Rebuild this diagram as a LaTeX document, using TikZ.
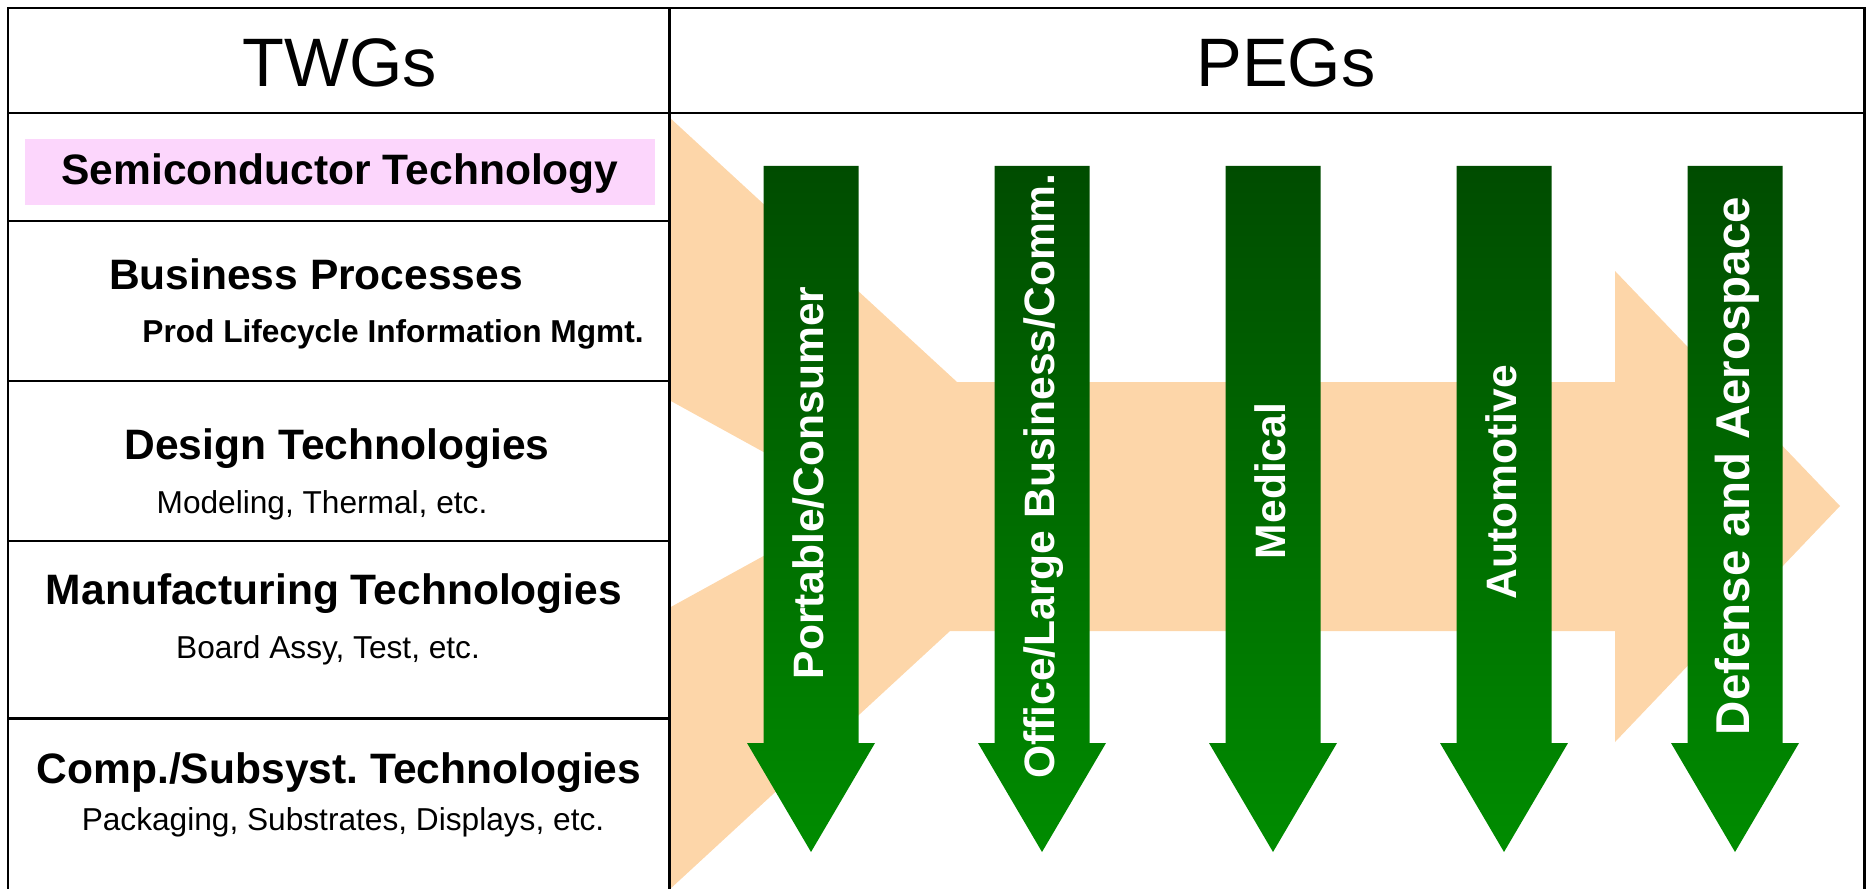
\documentclass[tikz,border=0pt]{standalone}
\usepackage{fontspec}
\setmainfont{Liberation Sans}
\frenchspacing
\definecolor{peach}{RGB}{253,214,169}
\definecolor{semipink}{RGB}{252,214,252}
\definecolor{pegdark}{RGB}{0,76,0}
\definecolor{peglight}{RGB}{0,140,0}
\begin{document}
\begin{tikzpicture}[x=0.01cm, y=-0.01cm]
	\tikzstyle{rule} = [line width=0.85pt, black]
	\tikzstyle{group} = [font={\fontsize{19.5}{22}\selectfont}, anchor=base]
	\tikzstyle{twg} = [font={\fontsize{12.1}{14}\selectfont\bfseries}, anchor=base]
	\tikzstyle{detail} = [font={\fontsize{9}{11}\selectfont}, anchor=base]
	\tikzstyle{pegarrow} = [top color=pegdark, bottom color=peglight]
	\tikzstyle{peg} = [text=white, font={\fontsize{12.1}{14}\selectfont\bfseries}, rotate=90, anchor=base]

	\useasboundingbox (0,0) rectangle (1867,888);
	\clip (0,0) rectangle (1867,888);

	% flow arrow behind the PEGs
	\fill[peach] (669,117) -- (957,382) -- (1615,382) -- (1615,271) -- (1840,506) -- (1615,742) -- (1615,631) -- (950,631) -- (669,890) -- (669,608) -- (858,504) -- (669,400) -- cycle;

	% PEG arrows
	\shade[pegarrow] (763.5,166) -- ++(95,0) -- ++(0,577) -- ++(16.5,0) -- ++(-64,109) -- ++(-64,-109) -- ++(16.5,0) -- cycle;
	\shade[pegarrow] (994.5,166) -- ++(95,0) -- ++(0,577) -- ++(16.5,0) -- ++(-64,109) -- ++(-64,-109) -- ++(16.5,0) -- cycle;
	\shade[pegarrow] (1225.5,166) -- ++(95,0) -- ++(0,577) -- ++(16.5,0) -- ++(-64,109) -- ++(-64,-109) -- ++(16.5,0) -- cycle;
	\shade[pegarrow] (1456.5,166) -- ++(95,0) -- ++(0,577) -- ++(16.5,0) -- ++(-64,109) -- ++(-64,-109) -- ++(16.5,0) -- cycle;
	\shade[pegarrow] (1687.5,166) -- ++(95,0) -- ++(0,577) -- ++(16.5,0) -- ++(-64,109) -- ++(-64,-109) -- ++(16.5,0) -- cycle;

	\node[peg] (portable) at (823,483) {Portable/Consumer};
	\node[peg] (office) at (1054,476) {Office/Large Business/Comm.};
	\node[peg] (medical) at (1285,481) {Medical};
	\node[peg] (automotive) at (1516,482) {Automotive};
	\node[peg, font={\fontsize{13.5}{16}\selectfont\bfseries}] (defense) at (1749,466) {Defense and Aerospace};

	% table
	\draw[rule] (8,900) -- (8,8) -- (1864,8) -- (1864,900);
	\draw[rule] (669,8) -- (669,900);
	\draw[rule] (8,113) -- (1864,113);
	\draw[rule] (8,221) -- (669,221);
	\draw[rule] (8,381) -- (669,381);
	\draw[rule] (8,541) -- (669,541);
	\draw[rule] (8,718) -- (669,718);

	\node[group] (twgs) at (340,87) {TWGs};
	\node[group] (pegs) at (1286,87) {PEGs};

	\node[twg, anchor=center, fill=semipink, inner sep=0pt, minimum width=6.3cm, minimum height=0.66cm, text height=0.7em, text depth=0pt] (semi) at (340,172) {Semiconductor Technology};
	\node[twg] (business) at (316,289) {Business Processes};
	\node[twg, font={\fontsize{9}{11}\selectfont\bfseries}] (plm) at (393,342) {Prod Lifecycle Information Mgmt.};
	\node[twg] (design) at (337,459) {Design Technologies};
	\node[detail] (modeling) at (322,513) {Modeling, Thermal, etc.};
	\node[twg] (manufacturing) at (334,604) {Manufacturing Technologies};
	\node[detail] (assy) at (328,658) {Board Assy, Test, etc.};
	\node[twg] (comp) at (339,783) {Comp./Subsyst. Technologies};
	\node[detail] (packaging) at (343,830) {Packaging, Substrates, Displays, etc.};
\end{tikzpicture}
\end{document}
